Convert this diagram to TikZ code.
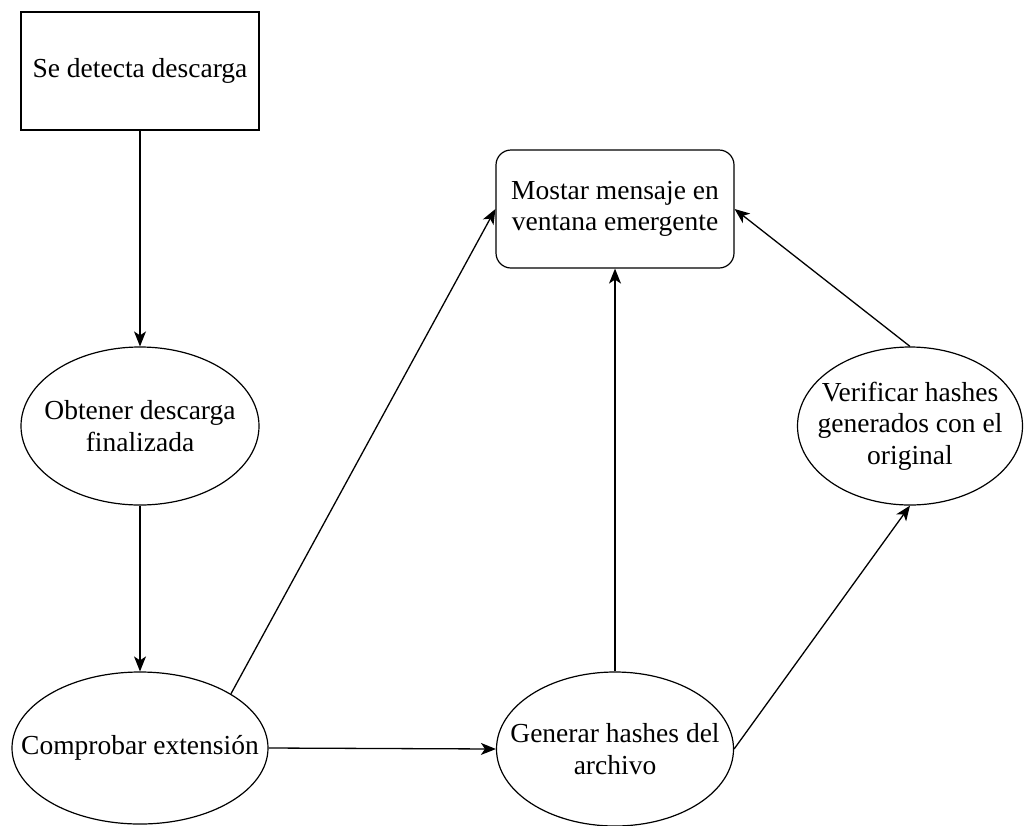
\documentclass[tikz,border=0pt]{standalone}
\usepackage{fontspec}
\setmainfont{Liberation Serif}
\usepackage{tikz}
\usetikzlibrary{arrows.meta,positioning,shapes.geometric}

\begin{document}
\begin{tikzpicture}[x=1pt, y=-1pt,
    every node/.style={font=\fontsize{27.5}{31.5}\selectfont, align=center},
    box/.style={draw, line width=1.2pt, minimum width=238pt, minimum height=118pt, inner sep=0pt},
    oval/.style={draw, ellipse, line width=1.2pt, inner sep=0pt},
    flow/.style={line width=1.3pt, -{Stealth[length=15pt, width=12pt, inset=4pt]}}]
    \useasboundingbox (0,0) rectangle (1024,825);
    \node[box] (detect) at (140,71) {Se detecta descarga};
    \node[oval, minimum width=238pt, minimum height=158pt, label={center:Obtener descarga\\finalizada}] (obtain) at (140,426) {};
    \node[oval, minimum width=256pt, minimum height=152pt, label={center:Comprobar extensión}] (check) at (140,748) {};
    \node[oval, minimum width=237pt, minimum height=154pt, label={center:Generar hashes del\\archivo}] (hashes) at (615,749) {};
    \node[oval, minimum width=225pt, minimum height=158pt, label={center:Verificar hashes\\generados con el\\original}] (verify) at (910,426) {};
    \node[box, rounded corners=15pt] (popup) at (615,209) {Mostar mensaje en\\ventana emergente};
    \draw[flow] (detect.south) -- (obtain.north);
    \draw[flow] (obtain.south) -- (check.north);
    \draw[flow] (check.east) -- (hashes.west);
    \draw[flow] (check.north east) -- (popup.west);
    \draw[flow] (hashes.north) -- (popup.south);
    \draw[flow] (hashes.east) -- (verify.south);
    \draw[flow] (verify.north) -- (popup.east);
  \end{tikzpicture}
\end{document}
